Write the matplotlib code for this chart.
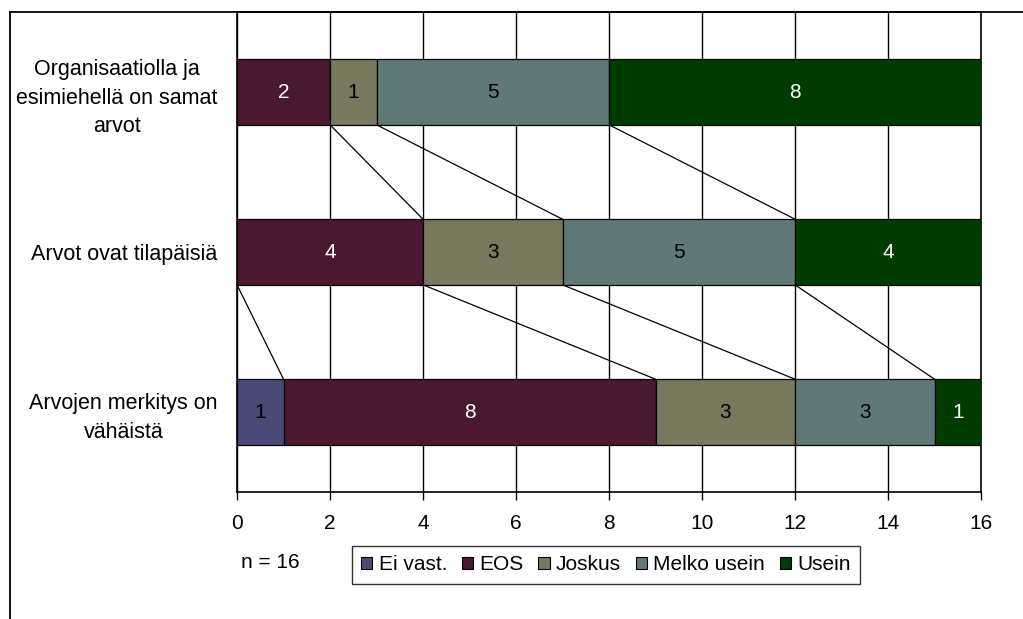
import matplotlib
matplotlib.use("Agg")
import matplotlib.pyplot as plt
from matplotlib.lines import Line2D
from matplotlib.patches import Patch
import numpy as np

plt.rcParams['font.family'] = ['Liberation Sans', 'DejaVu Sans']

# Statements, listed bottom to top
categories = ["Arvojen merkitys on\nvähäistä",
              "Arvot ovat tilapäisiä",
              "Organisaatiolla ja\nesimiehellä on samat\narvot"]
series_names = ["Ei vast.", "EOS", "Joskus", "Melko usein", "Usein"]
ei_vast = [1, 0, 0]
eos = [8, 4, 2]
joskus = [3, 3, 1]
melko_usein = [3, 5, 5]
usein = [1, 4, 8]
x_ticks = [0, 2, 4, 6, 8, 10, 12, 14, 16]
n_label = "n = 16"

colors = ["#4A4A78", "#4A1830", "#78785E", "#607878", "#003C00"]
label_colors = ["black", "white", "black", "black", "white"]

values = np.array([ei_vast, eos, joskus, melko_usein, usein], dtype=float)

W, H = 1023, 619
fig = plt.figure(figsize=(W / 100, H / 100), dpi=100)
ax = fig.add_axes([237 / W, 127 / H, 744 / W, 480 / H])

ypos = np.arange(len(categories))
bar_h = 0.41
left = np.zeros(len(categories))
for vals, name, col, tcol in zip(values, series_names, colors, label_colors):
    ax.barh(ypos, vals, left=left, height=bar_h, color=col,
            edgecolor="black", linewidth=0.9, label=name, zorder=3)
    for yi, (v, l) in enumerate(zip(vals, left)):
        if v > 0:
            ax.text(l + v / 2, yi, f"{int(v)}", ha="center", va="center",
                    color=tcol, fontsize=15, zorder=4)
    left = left + vals

# Series lines joining the cumulative edges of neighbouring bars
cum = np.vstack([np.zeros(len(categories)), np.cumsum(values, axis=0)])
for k in range(1, cum.shape[0] - 1):
    for i in range(len(categories) - 1):
        lo, hi = i, i + 1
        if cum[k, lo] == 0 and cum[k, hi] == 0:
            continue
        ax.plot([cum[k, hi], cum[k, lo]], [hi - bar_h / 2, lo + bar_h / 2],
                color="black", linewidth=0.9, zorder=2)

ax.set_xlim(0, 16)
ax.set_ylim(-0.5, len(categories) - 0.5)
ax.set_xticks(x_ticks)
ax.set_xticklabels([str(t) for t in x_ticks], fontsize=15)
ax.tick_params(axis="x", direction="out", length=6, width=1, pad=10, colors="black")
ax.set_yticks(ypos)
ax.set_yticklabels(categories, fontsize=15.5, linespacing=1.45)
for t in ax.get_yticklabels():
    t.set_multialignment("center")
ax.tick_params(axis="y", length=0, pad=14)
ax.xaxis.grid(True, color="black", linewidth=1.0, zorder=1)
ax.set_axisbelow(True)
for s in ax.spines.values():
    s.set_color("black")
    s.set_linewidth(1.2)

# Outer frame lines
fig.add_artist(Line2D([10 / W, 10 / W], [0, 1 - 12 / H], transform=fig.transFigure,
                      color="black", linewidth=1.3))
fig.add_artist(Line2D([10 / W, 1], [1 - 12 / H, 1 - 12 / H], transform=fig.transFigure,
                      color="black", linewidth=1.3))

fig.text(270 / W, 1 - 562 / H, n_label, ha="center", va="center", fontsize=15)

handles = [Patch(facecolor=c, edgecolor="black", linewidth=0.8) for c in colors]
leg = fig.legend(handles, series_names, loc="center", bbox_to_anchor=(606 / W, 1 - 565 / H),
                 ncol=5, fontsize=15, frameon=True, fancybox=False, shadow=False,
                 handlelength=0.55, handleheight=0.55, handletextpad=0.3,
                 columnspacing=0.7, borderpad=0.45, borderaxespad=0)
leg.get_frame().set_edgecolor("black")
leg.get_frame().set_linewidth(1.0)

fig.savefig("out.png", dpi=100)
